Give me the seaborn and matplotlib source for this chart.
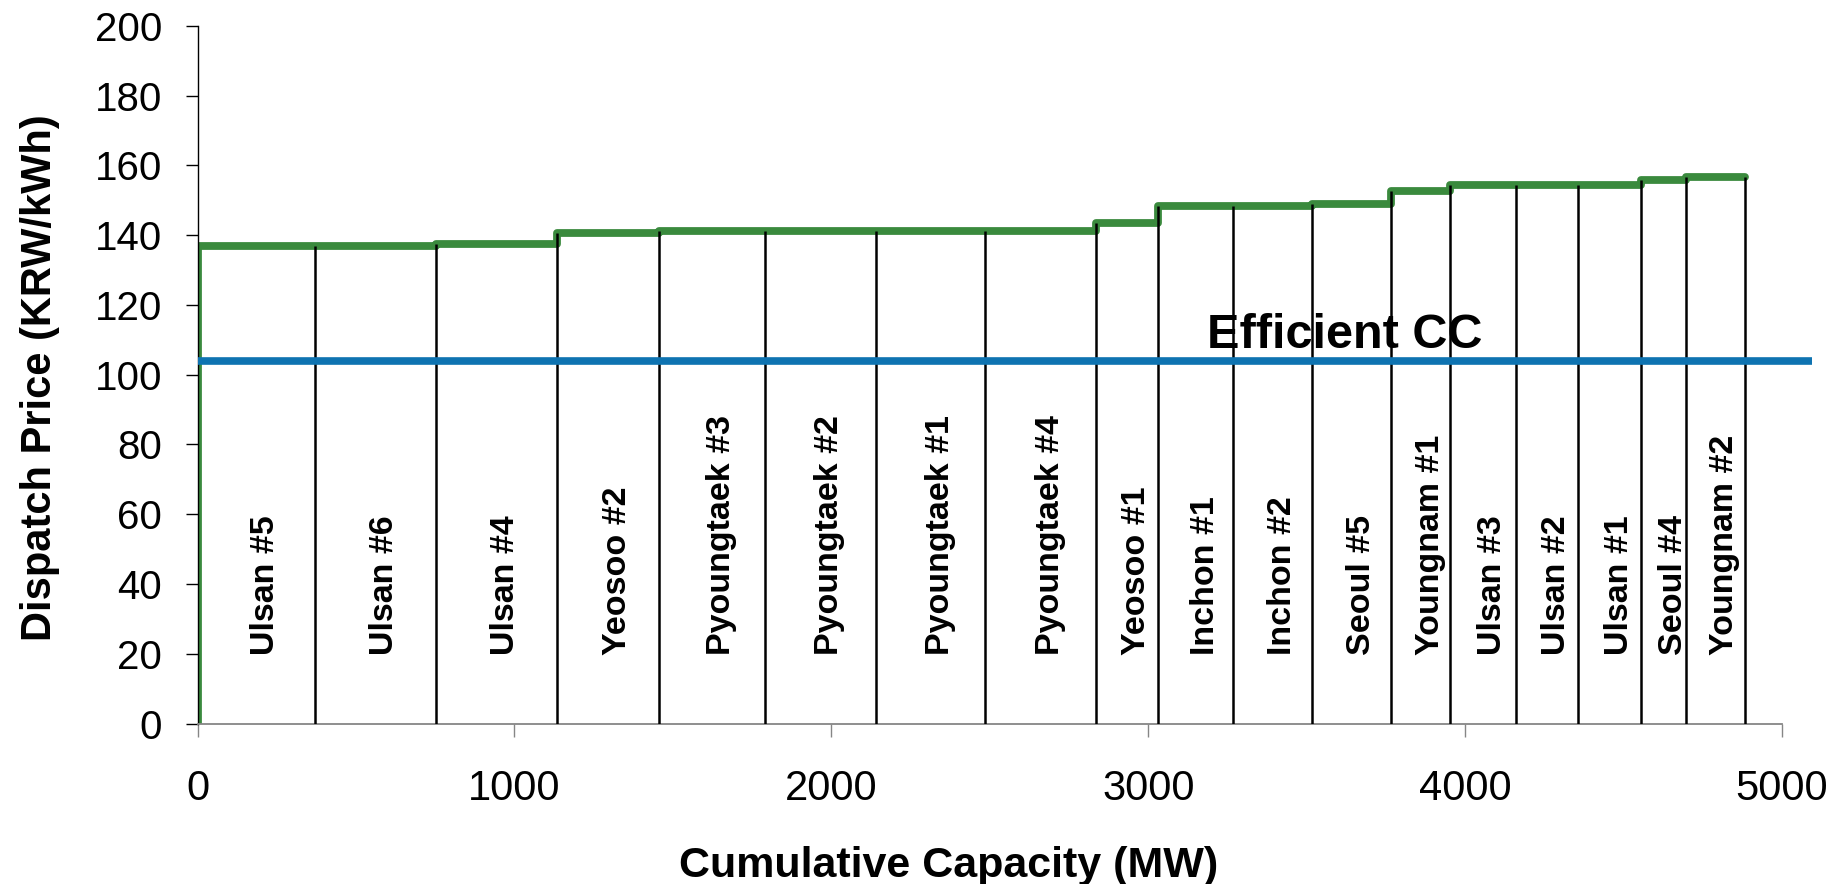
import numpy as np
import pandas as pd
import matplotlib
matplotlib.use("Agg")
import matplotlib.pyplot as plt
import seaborn as sns

# Merit-order units (dispatch order), capacity in MW and dispatch price in KRW/kWh
units = [
    "Ulsan #5", "Ulsan #6", "Ulsan #4", "Yeosoo #2",
    "Pyoungtaek #3", "Pyoungtaek #2", "Pyoungtaek #1", "Pyoungtaek #4",
    "Yeosoo #1", "Inchon #1", "Inchon #2", "Seoul #5", "Youngnam #1",
    "Ulsan #3", "Ulsan #2", "Ulsan #1", "Seoul #4", "Youngnam #2",
]
capacity_mw = [370, 382, 382, 323, 333, 350, 346, 350, 194,
               238, 249, 250, 185, 207, 198, 199, 141, 185]
price_krw = [136.9, 136.9, 137.6, 140.7, 141.3, 141.3, 141.3, 141.3, 143.6,
             148.3, 148.3, 148.9, 152.8, 154.4, 154.4, 154.4, 155.9, 156.6]

efficient_cc_price = 103.8
efficient_cc_label = "Efficient CC"

x_ticks = [0, 1000, 2000, 3000, 4000, 5000]
y_ticks = [0, 20, 40, 60, 80, 100, 120, 140, 160, 180, 200]

# Styling / layout
GREEN = "#3A8A3D"
BLUE = "#0E73B1"
AXIS_GREY = "#868686"
CC_LINE_END = 5096        # reference line runs a little past the axis end
CC_TEXT_X, CC_TEXT_Y = 3621, 107.6
UNIT_LABEL_Y = 19.5

cap = np.asarray(capacity_mw, dtype=float)
price = np.asarray(price_krw, dtype=float)
right_edge = np.cumsum(cap)
left_edge = right_edge - cap
centers = (left_edge + right_edge) / 2

# supply curve as a step series starting from the origin
step_df = pd.DataFrame({
    "capacity": np.r_[0.0, left_edge, right_edge[-1]],
    "price": np.r_[0.0, price, price[-1]],
})
# dividers between units reach up to the higher adjacent step
divider_top = np.maximum(price, np.r_[price[1:], price[-1]])

sns.set_theme(style="white")
plt.rcParams["font.family"] = ["Liberation Sans", "DejaVu Sans"]

fig = plt.figure(figsize=(18.43, 8.84), dpi=100)
ax = fig.add_axes([0.10722, 0.18156, 0.85968, 0.78903])

sns.lineplot(data=step_df, x="capacity", y="price", drawstyle="steps-post",
             estimator=None, sort=False, color=GREEN, linewidth=5.6,
             solid_capstyle="round", solid_joinstyle="round", ax=ax, zorder=2)

ax.vlines(right_edge, 0, divider_top, colors="black", linewidth=1.8, zorder=3)

ax.plot([0, CC_LINE_END], [efficient_cc_price, efficient_cc_price], color=BLUE,
        linewidth=5.5, solid_capstyle="butt", clip_on=False, zorder=4)
ax.text(CC_TEXT_X, CC_TEXT_Y, efficient_cc_label, ha="center", va="baseline",
        fontsize=35, fontweight="bold", color="black", zorder=5)

for name, c in zip(units, centers):
    ax.annotate(name, (c, UNIT_LABEL_Y), xytext=(13, 0), textcoords="offset points",
                rotation=90, rotation_mode="anchor", ha="left", va="baseline",
                fontsize=24.5, fontweight="bold", color="black", zorder=5)

ax.set_xlim(0, 5000)
ax.set_ylim(0, 200)
ax.set_xticks(x_ticks)
ax.set_yticks(y_ticks)
ax.set_xticklabels([str(t) for t in x_ticks])
ax.set_yticklabels([str(t) for t in y_ticks])
ax.grid(False)

for side in ("top", "right"):
    ax.spines[side].set_visible(False)
ax.spines["left"].set_color("black")
ax.spines["left"].set_linewidth(1.0)
ax.spines["bottom"].set_color(AXIS_GREY)
ax.spines["bottom"].set_linewidth(1.3)

ax.tick_params(axis="y", left=True, direction="out", length=8.4, width=1.0,
               color="black", pad=17, labelsize=29, labelcolor="black")
ax.tick_params(axis="x", bottom=True, direction="out", length=9.6, width=1.0,
               color=AXIS_GREY, pad=23, labelsize=30, labelcolor="black")

ax.set_xlabel("Cumulative Capacity (MW)", fontsize=31, fontweight="bold", color="black")
ax.xaxis.set_label_coords(0.4743, -0.2196)
ax.xaxis.label.set_va("baseline")

ax.set_ylabel("Dispatch Price (KRW/kWh)", fontsize=30, fontweight="bold", color="black")
ax.yaxis.set_label_coords(-0.0995, 0.4953)
ax.yaxis.label.set_va("center")

fig.savefig("out.png", dpi=100, facecolor="white")
